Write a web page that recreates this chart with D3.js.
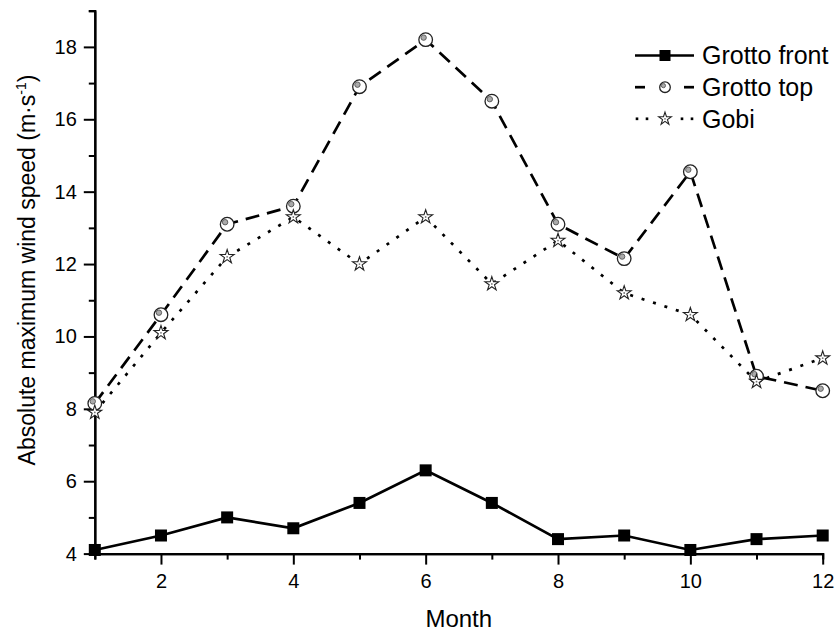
<!DOCTYPE html>
<html>
<head>
<meta charset="utf-8">
<script src="https://cdn.jsdelivr.net/npm/d3@7"></script>
<style>
  html, body { margin: 0; padding: 0; background: #fff; }
  svg { display: block; font-family: "Liberation Sans", Arial, sans-serif; }
</style>
</head>
<body>
<svg id="chart" width="835" height="632"></svg>
<script>
// Monthly absolute maximum wind speed (m·s⁻¹)
const months = [1, 2, 3, 4, 5, 6, 7, 8, 9, 10, 11, 12];
const grottoFront = [4.1, 4.5, 5.0, 4.7, 5.4, 6.3, 5.4, 4.4, 4.5, 4.1, 4.4, 4.5];
const grottoTop   = [8.15, 10.6, 13.1, 13.6, 16.9, 18.2, 16.5, 13.1, 12.15, 14.55, 8.9, 8.5];
const gobi        = [7.9, 10.1, 12.2, 13.3, 12.0, 13.3, 11.45, 12.65, 11.2, 10.6, 8.75, 9.4];
const seriesNames = ["Grotto front", "Grotto top", "Gobi"];
const xMajorTicks = [2, 4, 6, 8, 10, 12];
const xMinorTicks = [1, 3, 5, 7, 9, 11];
const yMajorTicks = [4, 6, 8, 10, 12, 14, 16, 18];
const yMinorTicks = [5, 7, 9, 11, 13, 15, 17, 19];

const svg = d3.select("#chart");
const x = d3.scaleLinear().domain([1, 12]).range([94.8, 822.7]);
const y = d3.scaleLinear().domain([4, 19]).range([553.6, 10.7]);

// ---- axes ----
const axisG = svg.append("g");
function styleAxis(g) {
  g.selectAll("path.domain").attr("stroke", "#000").attr("stroke-width", 2.2);
  g.selectAll(".tick line").attr("stroke", "#000").attr("stroke-width", 2);
}
// minor ticks
axisG.append("g").attr("transform", `translate(0,${y(4)})`)
  .call(d3.axisBottom(x).tickValues(xMinorTicks).tickSize(6).tickFormat(""))
  .call(styleAxis);
axisG.append("g").attr("transform", `translate(${x(1)},0)`)
  .call(d3.axisLeft(y).tickValues(yMinorTicks).tickSize(6).tickFormat(""))
  .call(styleAxis);
// major ticks with labels
const xAx = axisG.append("g").attr("transform", `translate(0,${y(4)})`)
  .call(d3.axisBottom(x).tickValues(xMajorTicks).tickSize(11).tickSizeOuter(0).tickPadding(9).tickFormat(d3.format("d")))
  .call(styleAxis);
xAx.selectAll("text").attr("font-size", 20).attr("fill", "#000")
  .attr("font-family", "Liberation Sans, Arial, sans-serif");
const yAx = axisG.append("g").attr("transform", `translate(${x(1)},0)`)
  .call(d3.axisLeft(y).tickValues(yMajorTicks).tickSize(11).tickSizeOuter(0).tickPadding(7).tickFormat(d3.format("d")))
  .call(styleAxis);
yAx.selectAll("text").attr("font-size", 20).attr("fill", "#000")
  .attr("font-family", "Liberation Sans, Arial, sans-serif");

// axis titles
svg.append("text")
  .attr("x", (x(1) + x(12)) / 2).attr("y", 627)
  .attr("text-anchor", "middle").attr("font-size", 24).attr("fill", "#000")
  .text("Month");
const yt = svg.append("text")
  .attr("transform", "translate(35,270) rotate(-90)")
  .attr("text-anchor", "middle").attr("font-size", 23).attr("fill", "#000");
yt.append("tspan").text("Absolute maximum wind speed (m·s");
yt.append("tspan").attr("font-size", 14).attr("dy", -9).text("-1");
yt.append("tspan").attr("dy", 9).text(")");

// ---- marker painters ----
function drawSquare(g, s) {
  g.append("rect").attr("x", -s / 2).attr("y", -s / 2).attr("width", s).attr("height", s)
    .attr("fill", "#000");
}
function drawCircle(g, r) {
  g.append("circle").attr("r", r).attr("fill", "#fff").attr("stroke", "#222").attr("stroke-width", 1.3);
  g.append("circle").attr("cx", -r * 0.3).attr("cy", -r * 0.3).attr("r", r * 0.4)
    .attr("fill", "#aaa").attr("stroke", "#555").attr("stroke-width", 0.9);
}
const starPath = size => d3.symbol().type(d3.symbolStar).size(size)();
function drawStar(g, size) {
  g.append("path").attr("d", starPath(size)).attr("fill", "#fff")
    .attr("stroke", "#222").attr("stroke-width", 1.1).attr("stroke-linejoin", "miter");
  g.append("circle").attr("r", 0.9).attr("fill", "#777");
}

const line = d3.line().x((d, i) => x(months[i])).y(d => y(d));

const series = [
  { name: seriesNames[0], values: grottoFront, dash: null, marker: g => drawSquare(g, 12), legendMarker: g => drawSquare(g, 11) },
  { name: seriesNames[1], values: grottoTop, dash: "14,8", marker: g => drawCircle(g, 6.8), legendMarker: g => drawCircle(g, 5.3) },
  { name: seriesNames[2], values: gobi, dash: "3,9", marker: g => drawStar(g, 60), legendMarker: g => drawStar(g, 50) }
];

const plot = svg.append("g");
series.forEach(s => {
  plot.append("path").datum(s.values)
    .attr("d", line).attr("fill", "none").attr("stroke", "#000")
    .attr("stroke-width", 2.7)
    .attr("stroke-dasharray", s.dash);
});
series.forEach(s => {
  plot.append("g").selectAll("g").data(s.values).join("g")
    .attr("transform", (d, i) => `translate(${x(months[i])},${y(d)})`)
    .each(function () { s.marker(d3.select(this)); });
});

// ---- legend ----
const legendRows = [55.5, 87.2, 118.8];
const legend = svg.append("g");
series.forEach((s, i) => {
  const row = legend.append("g").attr("transform", `translate(0,${legendRows[i]})`);
  if (i === 0) {
    row.append("line").attr("x1", 635).attr("x2", 694).attr("stroke", "#000").attr("stroke-width", 2.7);
  } else if (i === 1) {
    [[635, 645], [684, 694]].forEach(([a, b]) =>
      row.append("line").attr("x1", a).attr("x2", b).attr("stroke", "#000").attr("stroke-width", 2.7));
  } else {
    [637, 647, 682, 692].forEach(cx =>
      row.append("line").attr("x1", cx - 1.3).attr("x2", cx + 1.3).attr("stroke", "#000").attr("stroke-width", 2.7));
  }
  const m = row.append("g").attr("transform", "translate(665,0)");
  s.legendMarker(m);
  row.append("text").attr("x", 702).attr("y", 8.8)
    .attr("font-size", 25).attr("fill", "#000").text(s.name);
});
</script>
</body>
</html>
